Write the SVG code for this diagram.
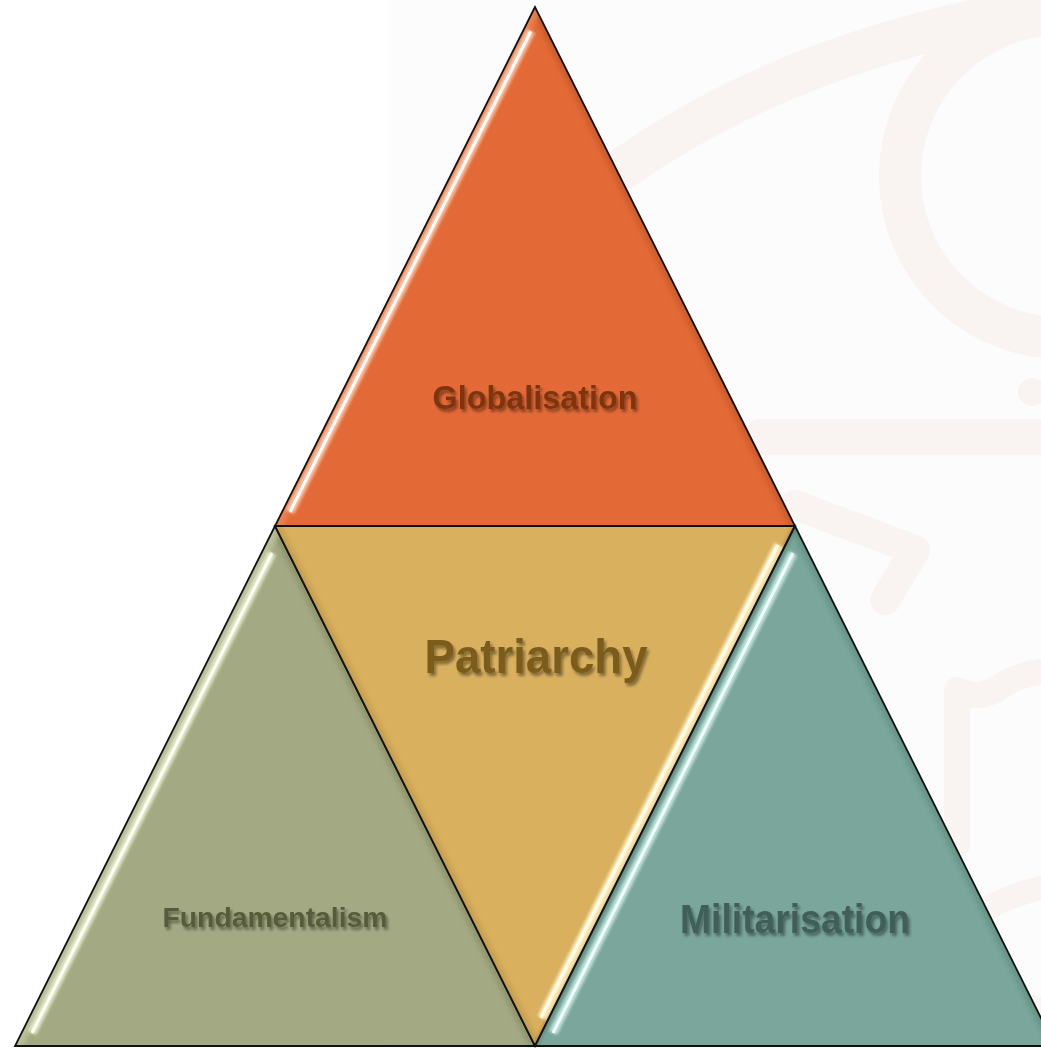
<svg xmlns="http://www.w3.org/2000/svg" width="1041" height="1048" viewBox="0 0 1041 1048">
<style>
.bgc{fill:none;stroke:#f9f3f1;stroke-linecap:round;stroke-linejoin:round}
.outline{fill:none;stroke:#111;stroke-width:1.8;stroke-linejoin:miter}
.lbl{font-family:"Liberation Sans",Arial,sans-serif;font-weight:bold;text-anchor:middle;filter:url(#tshadow)}
.hlw{stroke-linecap:butt;fill:none}
</style>
<defs>
<filter id="tshadow" x="-10%" y="-30%" width="120%" height="160%">
<feGaussianBlur in="SourceAlpha" stdDeviation="1.8"/>
<feOffset dx="2" dy="2.5" result="b"/>
<feComponentTransfer in="b" result="s"><feFuncA type="linear" slope="0.4"/></feComponentTransfer>
<feMerge><feMergeNode in="s"/><feMergeNode in="SourceGraphic"/></feMerge>
</filter>
<filter id="soft" x="-10%" y="-10%" width="120%" height="120%"><feGaussianBlur stdDeviation="2.5"/></filter>
<filter id="glow" x="-10%" y="-10%" width="120%" height="120%"><feGaussianBlur stdDeviation="1.4"/></filter>
<clipPath id="cTop"><polygon points="535,7 275,526 795,526"/></clipPath>
<clipPath id="cLeft"><polygon points="275,526 15,1046 535,1046"/></clipPath>
<clipPath id="cMid"><polygon points="275,526 795,526 535,1046"/></clipPath>
<clipPath id="cRight"><polygon points="795,526 535,1046 1055,1046"/></clipPath>
</defs>

<g id="background">
<rect x="0" y="0" width="1041" height="1048" fill="#ffffff"/>
<rect x="388" y="0" width="653" height="1048" fill="#fcfcfd"/>
<path class="bgc" stroke-width="42" d="M600 185 Q780 50 1041 8"/>
<circle class="bgc" stroke-width="42" cx="1062" cy="176" r="162"/>
<circle cx="1032" cy="392" r="14" fill="#f9f3f1"/>
<path class="bgc" stroke-width="36" d="M760 437 L1041 437"/>
<path class="bgc" stroke-width="30" d="M795 505 L915 550 L885 600"/>
<path class="bgc" stroke-width="26" d="M957 845 L957 690 Q975 700 995 690 Q1015 675 1041 672"/>
<path class="bgc" stroke-width="24" d="M980 912 Q1010 895 1041 888"/>
<path class="bgc" stroke-width="24" d="M1010 1000 L1041 1010"/>
</g>

<g id="connectors"></g>

<g id="globalisation">
<polygon points="535,7 275,526 795,526" fill="#e36a37"/>
<g clip-path="url(#cTop)">
<line x1="535" y1="7" x2="795" y2="526" stroke="#b04a1e" stroke-width="10" opacity="0.45" filter="url(#soft)"/>
<line x1="275" y1="526" x2="795" y2="526" stroke="#f4a57e" stroke-width="6" opacity="0.5" filter="url(#soft)"/>
<line x1="535" y1="7" x2="275" y2="526" stroke="#f08a5a" stroke-width="14" opacity="0.7" filter="url(#soft)"/>
<line class="hlw" x1="531" y1="31" x2="290" y2="512" stroke="#ffd9c2" stroke-width="9" opacity="0.75" filter="url(#glow)"/>
<line class="hlw" x1="531" y1="31" x2="290" y2="512" stroke="#ffffff" stroke-width="3"/>
</g>
<polygon class="outline" points="535,7 275,526 795,526"/>
<text class="lbl" x="535" y="409" font-size="33" fill="#7e3511" textLength="205" lengthAdjust="spacingAndGlyphs">Globalisation</text>
</g>

<g id="fundamentalism">
<polygon points="275,526 15,1046 535,1046" fill="#a3a982"/>
<g clip-path="url(#cLeft)">
<line x1="275" y1="526" x2="535" y2="1046" stroke="#6f7550" stroke-width="10" opacity="0.4" filter="url(#soft)"/>
<line x1="15" y1="1045" x2="535" y2="1045" stroke="#e4e8cf" stroke-width="5" opacity="0.7" filter="url(#glow)"/>
<line x1="275" y1="526" x2="15" y2="1046" stroke="#c4c9a2" stroke-width="14" opacity="0.7" filter="url(#soft)"/>
<line class="hlw" x1="272" y1="553" x2="32" y2="1033" stroke="#f4f7dc" stroke-width="9" opacity="0.75" filter="url(#glow)"/>
<line class="hlw" x1="272" y1="553" x2="32" y2="1033" stroke="#fdfff0" stroke-width="3"/>
</g>
<polygon class="outline" points="275,526 15,1046 535,1046"/>
<text class="lbl" x="275" y="927" font-size="28" fill="#575c3a" textLength="225" lengthAdjust="spacingAndGlyphs">Fundamentalism</text>
</g>

<g id="patriarchy">
<polygon points="275,526 795,526 535,1046" fill="#d8b05e"/>
<g clip-path="url(#cMid)">
<line x1="275" y1="526" x2="535" y2="1046" stroke="#a8843a" stroke-width="10" opacity="0.4" filter="url(#soft)"/>
<line x1="275" y1="528" x2="795" y2="528" stroke="#f3deaa" stroke-width="5" opacity="0.8" filter="url(#glow)"/>
<line x1="795" y1="526" x2="535" y2="1046" stroke="#a07a2c" stroke-width="4" opacity="0.7" filter="url(#glow)"/>
<line class="hlw" x1="779" y1="545" x2="542" y2="1018" stroke="#fff2c4" stroke-width="10" opacity="0.85" filter="url(#glow)"/>
<line class="hlw" x1="778" y1="545" x2="541" y2="1018" stroke="#fffbea" stroke-width="3.5"/>
</g>
<polygon class="outline" points="275,526 795,526 535,1046"/>
<text class="lbl" x="536" y="673" font-size="48" fill="#7b5c1c" textLength="223" lengthAdjust="spacingAndGlyphs">Patriarchy</text>
</g>

<g id="militarisation">
<polygon points="795,526 535,1046 1055,1046" fill="#7aa69b"/>
<g clip-path="url(#cRight)">
<line x1="795" y1="526" x2="1055" y2="1046" stroke="#4f7a70" stroke-width="10" opacity="0.45" filter="url(#soft)"/>
<line x1="535" y1="1045" x2="1055" y2="1045" stroke="#cde6e0" stroke-width="5" opacity="0.7" filter="url(#glow)"/>
<line x1="795" y1="526" x2="535" y2="1046" stroke="#4f7a70" stroke-width="6" opacity="0.5" filter="url(#glow)"/>
<line class="hlw" x1="793" y1="553" x2="553" y2="1033" stroke="#d6f6f1" stroke-width="9" opacity="0.75" filter="url(#glow)"/>
<line class="hlw" x1="793" y1="553" x2="553" y2="1033" stroke="#f0fffd" stroke-width="3"/>
</g>
<polygon class="outline" points="795,526 535,1046 1055,1046"/>
<text class="lbl" x="795" y="933" font-size="41" fill="#3f5f58" textLength="230" lengthAdjust="spacingAndGlyphs">Militarisation</text>
</g>
</svg>
